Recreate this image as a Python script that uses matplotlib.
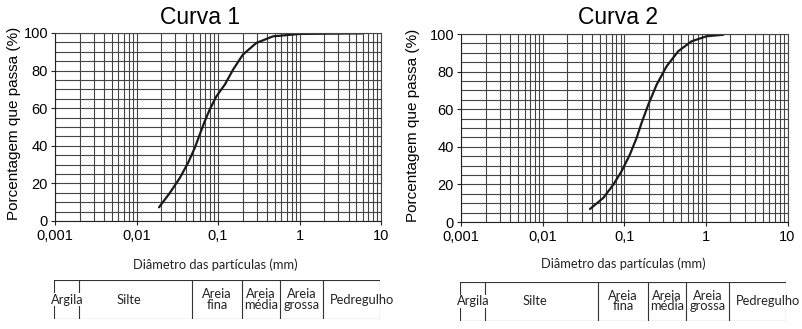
import matplotlib
matplotlib.use("Agg")
import matplotlib.pyplot as plt
import numpy as np

# ---- data ----
curve1_d = [0.0189, 0.0256, 0.034, 0.0429, 0.0518, 0.0596, 0.0687, 0.079, 0.0955,
            0.121, 0.153, 0.202, 0.295, 0.471, 1.0, 5.96]
curve1_p = [7.3, 14.9, 22.9, 30.9, 38.8, 45.9, 53.0, 59.2, 66.3,
            72.5, 80.5, 88.5, 94.7, 98.2, 99.5, 99.8]

curve2_d = [0.038, 0.0553, 0.0733, 0.0927, 0.117, 0.1416, 0.163, 0.197, 0.249,
            0.33, 0.458, 0.667, 1.02, 1.63]
curve2_p = [6.9, 12.8, 19.8, 27.0, 35.8, 44.7, 52.7, 62.4, 73.0,
            82.8, 90.8, 96.1, 98.8, 99.6]

titles = ["Curva 1", "Curva 2"]
xtick_vals = [0.001, 0.01, 0.1, 1, 10]
xtick_labels = ["0,001", "0,01", "0,1", "1", "10"]
ytick_vals = [0, 20, 40, 60, 80, 100]
ylabel = "Porcentagem que passa (%)"
xlabel = "Diâmetro das partículas (mm)"

class_bounds = [0.001, 0.002, 0.05, 0.2, 0.6, 2, 10]
class_names = ["Argila", "Silte", "Areia\nfina", "Areia\nmédia", "Areia\ngrossa", "Pedregulho"]

W, H = 802, 329
fig = plt.figure(figsize=(W / 100, H / 100), dpi=100)

def frac(l, t, r, b):
    return [l / W, 1 - b / H, (r - l) / W, (b - t) / H]

axes_px = [(55, 33, 381, 221), (461, 34, 787.5, 222)]
table_px = [(54, 280, 380, 319), (460, 282, 786, 320.5)]
title_pos = [(200, 17), (618, 17)]
ylabel_pos = [(14, 123), (413, 125)]
xlabel_pos = [(215, 265), (623, 264)]

grid_col = "#444444"
tick_font = "Liberation Sans"
human_font = "Lato"

curves = [(curve1_d, curve1_p), (curve2_d, curve2_p)]

for i in range(2):
    ax = fig.add_axes(frac(*axes_px[i]))
    ax.set_xscale("log")
    ax.set_xlim(0.001, 10)
    ax.set_ylim(0, 100)
    minor_x = [m * 10.0 ** e for e in range(-3, 1) for m in range(2, 10)]
    ax.set_xticks(xtick_vals)
    ax.set_xticklabels(xtick_labels, fontfamily=tick_font, fontsize=10.5)
    ax.set_xticks(minor_x, minor=True)
    ax.set_yticks(ytick_vals)
    ax.set_yticklabels([str(v) for v in ytick_vals], fontfamily=tick_font, fontsize=10.5)
    ax.set_yticks(np.arange(0, 101, 5), minor=True)
    ax.grid(True, which="both", color=grid_col, linewidth=0.8)
    ax.tick_params(which="minor", length=0)
    ax.tick_params(which="major", length=3, width=0.8, color="#222", pad=2)
    ax.tick_params(axis="x", which="major", pad=3)
    for s in ax.spines.values():
        s.set_color(grid_col)
        s.set_linewidth(0.8)
    ax.spines["left"].set_color("#222")
    ax.spines["bottom"].set_color("#222")
    d, p = curves[i]
    ax.plot(d, p, color="#1a1a1a", linewidth=1.6, solid_capstyle="round")

    fig.text(title_pos[i][0] / W, 1 - title_pos[i][1] / H, titles[i],
             ha="center", va="center", fontsize=16.5, fontfamily=tick_font)
    fig.text(ylabel_pos[i][0] / W, 1 - ylabel_pos[i][1] / H, ylabel,
             ha="center", va="center", rotation=90, fontsize=11, fontfamily=tick_font)
    fig.text(xlabel_pos[i][0] / W, 1 - xlabel_pos[i][1] / H, xlabel,
             ha="center", va="center", fontsize=9.3, fontfamily=human_font, color="#222")

    # classification table
    tx = fig.add_axes(frac(*table_px[i]))
    tx.set_xscale("log")
    tx.set_xlim(0.001, 10)
    tx.set_ylim(0, 1)
    tx.axis("off")
    tx.plot([class_bounds[0], class_bounds[-1]], [1, 1], color="#333", lw=0.8)
    tx.plot([class_bounds[0], class_bounds[-1]], [0, 0], color="#333", lw=0.8)
    for b in class_bounds:
        tx.plot([b, b], [0, 1], color="#333", lw=0.8)
    for j, name in enumerate(class_names):
        lo, hi = class_bounds[j], class_bounds[j + 1]
        xc = np.sqrt(lo * hi)
        ha = "center"
        if j == 0:
            xc = lo * 1.45
        if j == len(class_names) - 1:
            xc, ha = lo * 1.2, "left"
        if j == 1:
            xc = xc * 0.83
        tx.text(xc, 0.5, name, ha=ha, va="center", fontsize=9.3, fontfamily=human_font,
                color="#222", linespacing=0.85,
                bbox=dict(facecolor="white", edgecolor="none", pad=0.3))

fig.savefig("out.png", dpi=100)
